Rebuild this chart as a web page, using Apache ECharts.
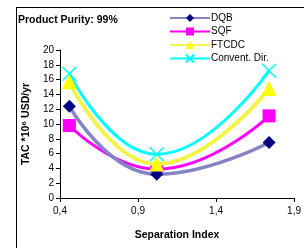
<!DOCTYPE html>
<html><head><meta charset="utf-8">
<script src="https://cdn.jsdelivr.net/npm/echarts@6/dist/echarts.min.js"></script>
<style>html,body{margin:0;padding:0;background:#fff}#c{width:304px;height:248px}</style>
</head><body><div id="c"></div>
<script>
const xVals = [0.46, 1.02, 1.74];
const dqb = [12.4, 3.2, 7.5];
const sqf = [9.8, 3.9, 11.1];
const ftcdc = [15.7, 4.6, 14.8];
const convent = [16.8, 5.9, 17.2];
const xTicks = [0.4, 0.9, 1.4, 1.9];
const F = 'Liberation Sans, Arial, sans-serif';
function pts(ys){return xVals.map((x,i)=>[x,ys[i]]);}
const chart = echarts.init(document.getElementById('c'));
chart.setOption({
  animation:false,
  title:{text:'Product Purity: 99%',left:13,top:10,textStyle:{fontFamily:F,fontSize:10.5,fontWeight:'bold',color:'#000'}},
  legend:{orient:'vertical',left:164,top:8,itemWidth:40,itemHeight:10,itemGap:3.5,
    textStyle:{fontFamily:F,fontSize:10,color:'#000',padding:[0,0,0,-4]},
    data:['DQB','SQF','FTCDC','Convent. Dir.']},
  grid:{left:60,right:7,top:50,bottom:50},
  graphic:[
    {type:'line',shape:{x1:16,y1:7.5,x2:304,y2:7.5},style:{stroke:'#000',lineWidth:1}},
    {type:'line',shape:{x1:16.5,y1:7,x2:16.5,y2:248},style:{stroke:'#000',lineWidth:1}}
  ],
  xAxis:{type:'value',min:0.4,max:1.9,
    name:'Separation Index',nameLocation:'middle',nameGap:32,
    nameTextStyle:{fontFamily:F,fontSize:10.5,fontWeight:'bold',color:'#000'},
    axisLine:{lineStyle:{color:'#000'}},
    axisTick:{show:true,customValues:xTicks,length:4,lineStyle:{color:'#000'}},
    axisLabel:{customValues:xTicks,fontFamily:F,fontSize:10,color:'#000',margin:8,
      formatter:v=>v.toFixed(1).replace('.',',')},
    splitLine:{show:false}},
  yAxis:{type:'value',min:0,max:20,interval:2,
    name:'TAC *10\u2076 USD/yr',nameLocation:'middle',nameGap:26,
    nameTextStyle:{fontFamily:F,fontSize:10.5,fontWeight:'bold',color:'#000'},
    axisLine:{show:true,lineStyle:{color:'#000'}},
    axisTick:{show:true,length:4,lineStyle:{color:'#000'}},
    axisLabel:{fontFamily:F,fontSize:10,color:'#000',margin:6},
    splitLine:{show:false}},
  series:[
    {name:'DQB',type:'line',smooth:0.5,data:pts(dqb),symbol:'diamond',symbolSize:13,
      lineStyle:{color:'#8484c4',width:3.5},itemStyle:{color:'#000080'},z:4},
    {name:'SQF',type:'line',smooth:0.5,data:pts(sqf),symbol:'rect',symbolSize:13,
      lineStyle:{color:'#ff00ff',width:3},itemStyle:{color:'#ff00ff'},z:3},
    {name:'FTCDC',type:'line',smooth:0.5,data:pts(ftcdc),symbol:'triangle',symbolSize:15,
      lineStyle:{color:'#f4f448',width:4},itemStyle:{color:'#ffff00'},z:5},
    {name:'Convent. Dir.',type:'line',smooth:0.5,data:pts(convent),
      symbol:'path://M0,0L10,10M10,0L0,10',symbolSize:14,
      lineStyle:{color:'#00ffff',width:3},itemStyle:{color:'rgba(0,0,0,0)',borderColor:'#00ffff',borderWidth:1.5},z:2}
  ]
});
</script></body></html>
